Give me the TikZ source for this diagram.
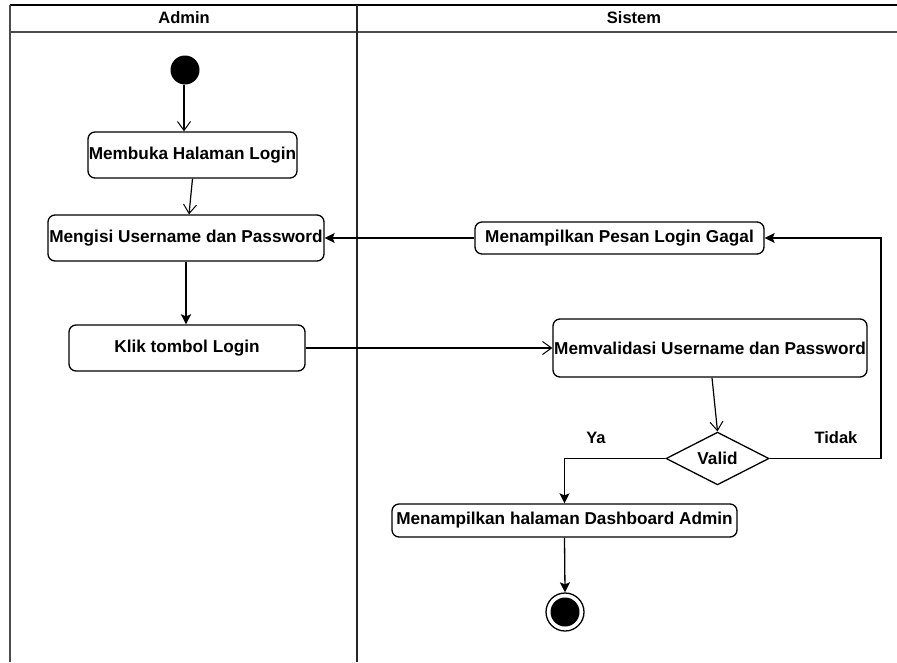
\documentclass[tikz,border=0pt]{standalone}
\usepackage{fontspec}
\setmainfont{Liberation Sans}
\usetikzlibrary{arrows.meta,shapes.geometric}
\tikzset{
  act/.style={draw=black, line width=1.3pt, rounded corners=7pt, inner sep=0pt, font=\fontsize{17.2}{20}\selectfont\bfseries},
  openarr/.style={-{Straight Barb[length=9pt,width=13pt,line width=1pt]}, line width=1.2pt},
  fillarr/.style={-{Stealth[length=10pt,width=10pt,inset=2pt]}, line width=1.3pt},
  lane/.style={line width=1.8pt},
  lbl/.style={font=\bfseries, inner sep=0pt}
}
\begin{document}
\begin{tikzpicture}[x=1pt,y=-1pt]
\fontsize{16.5}{19}\selectfont
\useasboundingbox (0,0) rectangle (897,662);
% swimlane frame
\draw[lane, black] (10,5) -- (897,5);
\draw[lane, black!70] (10,32) -- (897,32);
\draw[line width=2.6pt, black!70] (10,5) -- (10,662);
\draw[lane, black!85] (357,5) -- (357,662);
\node[lbl] (hAdmin) at (184,18) {Admin};
\node[lbl] (hSistem) at (634,18) {Sistem};
% nodes
\node[circle, fill=black, minimum size=29pt, inner sep=0pt] (start) at (185,70) {};
\node[act, minimum width=209pt, minimum height=46pt] (n1) at (192.5,155) {Membuka Halaman Login};
\node[act, minimum width=276pt, minimum height=46pt] (n2) at (186,238) {Mengisi Username dan Password};
\node[act, minimum width=236pt, minimum height=46pt] (n3) at (187,348) {Klik tombol Login};
\node[act, minimum width=314pt, minimum height=58pt] (n4) at (710,348) {Memvalidasi Username dan Password};
\node[act, minimum width=289pt, minimum height=32pt] (n5) at (619.5,238) {Menampilkan Pesan Login Gagal};
\node[diamond, draw=black, line width=1.3pt, inner sep=0pt, minimum width=103pt, minimum height=45pt, font=\fontsize{17.2}{20}\selectfont\bfseries] (d) at (717.5,458.5) {Valid};
\node[act, minimum width=345pt, minimum height=33pt] (n6) at (564.5,520.5) {Menampilkan halaman Dashboard Admin};
\node[circle, draw=black, line width=1.3pt, minimum size=38pt, inner sep=0pt] (end) at (565,612) {};
\node[circle, fill=black, minimum size=29pt, inner sep=0pt] (endin) at (end.center) {};
\coordinate (c1) at (881,458.5);
\coordinate (c2) at (881,238);
% labels
\node[lbl] (ya) at (596,438) {Ya};
\node[lbl] (tidak) at (836,438) {Tidak};
% connectors
\draw[openarr] ([xshift=-1pt]start.south) -- ([xshift=-8.5pt]n1.north);
\draw[openarr] (n1.south) -- ([xshift=3pt]n2.north);
\draw[fillarr, line width=2pt] (n2.south) -- (n2.south |- n3.north);
\draw[openarr] (n3.east) -- (n4.west);
\draw[openarr] ([xshift=2pt]n4.south) -- (d.north);
\draw[fillarr] (d.east) -- (c1) -- (c2) -- (n5.east);
\draw[fillarr] (n5.west) -- (n2.east);
\draw[fillarr] (d.west) -| (n6.north);
\draw[fillarr] (n6.south) -- (end.north);
\end{tikzpicture}
\end{document}
